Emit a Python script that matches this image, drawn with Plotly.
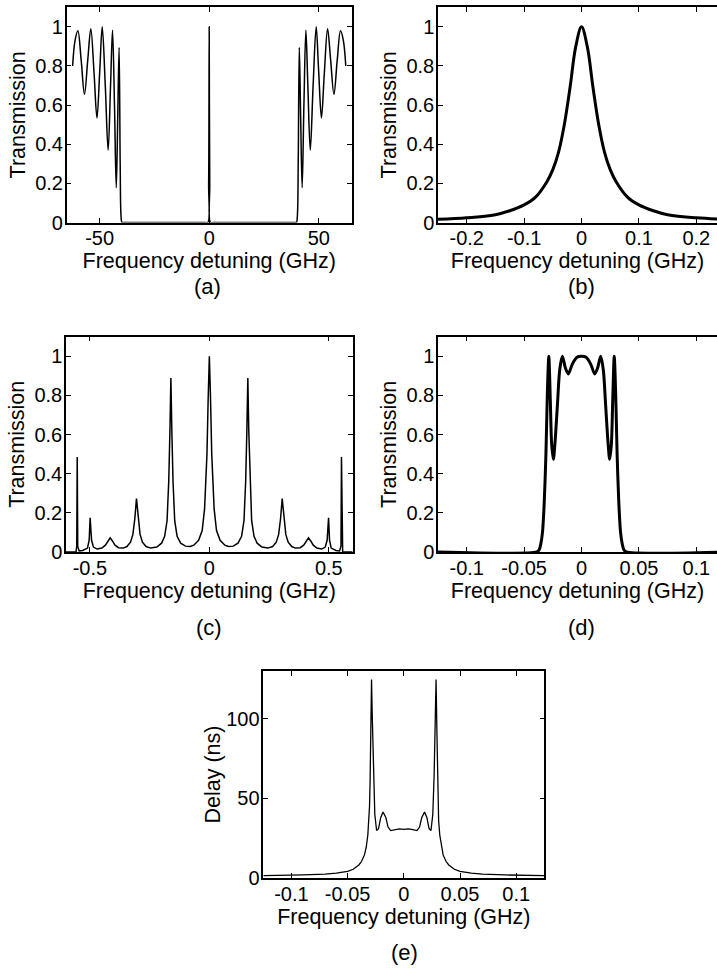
import plotly.graph_objects as go

W, H = 717, 973
FONT = "Liberation Sans, Arial, Helvetica, sans-serif"

# ---------------- data ----------------
# (a) wide transmission spectrum
a_x = [-62.3, -61.2, -59.9, -58.4, -56.9, -55.4, -54.0, -52.5, -51.2, -49.9, -48.8, -47.4,
       -46.1, -45.0, -44.1, -43.2, -42.4, -41.7, -41.1, -40.6, -40.2, -39.8, -39.0, -30.0,
       -15.0, -2.0, -0.6, -0.25, 0.0, 0.25, 0.6, 2.0, 15.0, 30.0, 39.0, 39.8, 40.2, 40.6,
       41.1, 41.7, 42.4, 43.2, 44.1, 45.0, 46.1, 47.4, 48.8, 49.9, 51.2, 52.5, 54.0, 55.4,
       56.9, 58.4, 59.9, 61.2, 62.3]
a_y = [0.80, 0.93, 0.98, 0.83, 0.655, 0.83, 0.99, 0.76, 0.534, 0.78, 1.0, 0.70,
       0.37, 0.70, 0.983, 0.60, 0.178, 0.55, 0.895, 0.30, 0.03, 0.0, 0.0, 0.0,
       0.0, 0.0, 0.0, 0.2, 1.0, 0.2, 0.0, 0.0, 0.0, 0.0, 0.0, 0.0, 0.03, 0.30,
       0.895, 0.55, 0.178, 0.60, 0.983, 0.70, 0.37, 0.70, 1.0, 0.78, 0.534, 0.76, 0.99, 0.83,
       0.655, 0.83, 0.98, 0.93, 0.80]

# (b) single resonance
b_x = [-0.25, -0.2, -0.15, -0.125, -0.1, -0.08, -0.06, -0.05, -0.04, -0.03, -0.02, -0.01, 0.0,
       0.01, 0.02, 0.03, 0.04, 0.05, 0.06, 0.08, 0.1, 0.125, 0.15, 0.2, 0.25]
b_y = [0.016, 0.024, 0.04, 0.06, 0.09, 0.13, 0.21, 0.27, 0.36, 0.50, 0.69, 0.90, 1.0,
       0.90, 0.69, 0.50, 0.36, 0.27, 0.21, 0.13, 0.09, 0.06, 0.04, 0.024, 0.016]

# (c) comb of resonances
c_x = [-0.6, -0.558, -0.555, -0.553, -0.551, -0.545, -0.53, -0.51, -0.503, -0.499, -0.493,
       -0.485, -0.47, -0.45, -0.435, -0.425, -0.415, -0.405, -0.395, -0.38, -0.36, -0.345,
       -0.33, -0.32, -0.312, -0.305, -0.298, -0.29, -0.28, -0.265, -0.245, -0.22, -0.2,
       -0.187, -0.177, -0.17, -0.165, -0.161, -0.157, -0.152, -0.145, -0.135, -0.12, -0.1,
       -0.08, -0.065, -0.045, -0.03, -0.02, -0.01, -0.005, 0.0,
       0.005, 0.01, 0.02, 0.03, 0.045, 0.065, 0.08, 0.1, 0.12, 0.135, 0.145, 0.152, 0.157,
       0.161, 0.165, 0.17, 0.177, 0.187, 0.2, 0.22, 0.245, 0.265, 0.28, 0.29, 0.298, 0.305,
       0.312, 0.32, 0.33, 0.345, 0.36, 0.38, 0.395, 0.405, 0.415, 0.425, 0.435, 0.45, 0.47,
       0.485, 0.493, 0.499, 0.503, 0.51, 0.53, 0.545, 0.551, 0.553, 0.555, 0.558, 0.6]
c_y = [0.0, 0.0, 0.03, 0.486, 0.03, 0.005, 0.008, 0.02, 0.06, 0.175, 0.06,
       0.025, 0.015, 0.02, 0.035, 0.055, 0.072, 0.055, 0.035, 0.022, 0.02, 0.028,
       0.05, 0.09, 0.17, 0.273, 0.17, 0.09, 0.05, 0.028, 0.02, 0.025, 0.045,
       0.08, 0.16, 0.36, 0.62, 0.889, 0.62, 0.36, 0.16, 0.08, 0.045, 0.03,
       0.028, 0.035, 0.06, 0.11, 0.22, 0.5, 0.78, 1.0,
       0.78, 0.5, 0.22, 0.11, 0.06, 0.035, 0.028, 0.03, 0.045, 0.08, 0.16, 0.36, 0.62,
       0.889, 0.62, 0.36, 0.16, 0.08, 0.045, 0.025, 0.02, 0.028, 0.05, 0.09, 0.17, 0.273,
       0.17, 0.09, 0.05, 0.028, 0.02, 0.022, 0.035, 0.055, 0.072, 0.055, 0.035, 0.02, 0.015,
       0.025, 0.06, 0.175, 0.06, 0.02, 0.008, 0.005, 0.03, 0.486, 0.03, 0.0, 0.0]

# (d) flat-top band
d_x = [-0.125, -0.039, -0.037, -0.0355, -0.034, -0.0325, -0.031, -0.0298, -0.0285, -0.0272,
       -0.026, -0.0245, -0.0232, -0.021, -0.019, -0.0167, -0.014, -0.0115, -0.008, -0.004, 0.0,
       0.004, 0.008, 0.0115, 0.014, 0.0167, 0.019, 0.021, 0.0232, 0.0245, 0.026, 0.0272,
       0.0285, 0.0298, 0.031, 0.0325, 0.034, 0.0355, 0.037, 0.039, 0.125]
d_y = [0.0, 0.0, 0.01, 0.04, 0.1, 0.25, 0.5, 0.8, 1.0, 0.78,
       0.55, 0.474, 0.55, 0.75, 0.93, 1.0, 0.94, 0.91, 0.96, 0.995, 1.0,
       0.995, 0.96, 0.91, 0.94, 1.0, 0.93, 0.75, 0.55, 0.474, 0.55, 0.78,
       1.0, 0.8, 0.5, 0.25, 0.1, 0.04, 0.01, 0.0, 0.0]

# (e) group delay
e_x = [-0.125, -0.11, -0.09, -0.07, -0.06, -0.05, -0.045, -0.04, -0.0375, -0.035, -0.0335,
       -0.032, -0.031, -0.0305, -0.030, -0.0295, -0.0287, -0.028, -0.027, -0.0258, -0.0242,
       -0.0225, -0.0205, -0.0185, -0.016, -0.014, -0.0117, -0.007, -0.004, 0.0,
       0.004, 0.007, 0.0117, 0.014, 0.016, 0.0185, 0.0205, 0.0225, 0.0242, 0.0258, 0.027,
       0.028, 0.0287, 0.0295, 0.030, 0.0305, 0.031, 0.032, 0.0335, 0.035, 0.0375, 0.04,
       0.045, 0.05, 0.06, 0.07, 0.09, 0.11, 0.125]
e_y = [1.5, 1.6, 1.9, 2.4, 3.0, 4.2, 5.5, 8.2, 10.5, 14.5, 19.0,
       27.0, 36.0, 45.0, 60.0, 90.0, 124.6, 100.0, 65.0, 40.0, 29.8,
       31.0, 38.0, 41.5, 38.0, 32.0, 29.8, 30.5, 30.8, 30.5,
       30.8, 30.5, 29.8, 32.0, 38.0, 41.5, 38.0, 31.0, 29.8, 40.0, 65.0,
       100.0, 124.6, 90.0, 60.0, 45.0, 36.0, 27.0, 19.0, 14.5, 10.5, 8.2,
       5.5, 4.2, 3.0, 2.4, 1.9, 1.6, 1.5]

# tick labels
a_xticks = [-50, 0, 50]
a_xtext = ["-50", "0", "50"]
b_xticks = [-0.2, -0.1, 0, 0.1, 0.2]
b_xtext = ["-0.2", "-0.1", "0", "0.1", "0.2"]
c_xticks = [-0.5, 0, 0.5]
c_xtext = ["-0.5", "0", "0.5"]
d_xticks = [-0.1, -0.05, 0, 0.05, 0.1]
d_xtext = ["-0.1", "-0.05", "0", "0.05", "0.1"]
t_yticks = [0, 0.2, 0.4, 0.6, 0.8, 1]
t_ytext = ["0", "0.2", "0.4", "0.6", "0.8", "1"]
e_yticks = [0, 50, 100]
e_ytext = ["0", "50", "100"]
panel_labels = ["(a)", "(b)", "(c)", "(d)", "(e)"]
XTITLE = "Frequency detuning (GHz)"

# ---------------- layout helpers ----------------
def px_x(p):
    return p / W

def px_y(p):
    return 1 - p / H

def xdom(l, r):
    return [px_x(l), min(1.0, px_x(r))]

def ydom(top, bottom):
    return [px_y(bottom), px_y(top)]

TICKF = dict(family=FONT, size=20, color="black")
TITF = dict(family=FONT, size=21.5, color="black")

def axis(rng, tv, tt, dom, title, mirror="ticks", standoff=4, lab_off=0):
    return dict(range=rng, domain=dom, tickmode="array", tickvals=tv, ticktext=tt,
                showline=True, linecolor="black", linewidth=1.5, mirror=mirror,
                ticks="inside", ticklen=5, tickwidth=1, tickcolor="black",
                ticklabelstandoff=lab_off,
                showgrid=False, zeroline=False, tickfont=TICKF, automargin=False,
                title=dict(text=title, font=TITF, standoff=standoff))

def xax(rng, tv, tt, dom):
    return axis(rng, tv, tt, dom, XTITLE, standoff=0, lab_off=-3)

def yax(rng, tv, tt, dom, title, mirror="ticks", standoff=4):
    return axis(rng, tv, tt, dom, title, mirror=mirror, standoff=standoff, lab_off=-2)

fig = go.Figure()
fig.add_trace(go.Scatter(x=a_x, y=a_y, mode="lines", xaxis="x", yaxis="y",
                         line=dict(color="black", width=1.5, shape="spline", smoothing=1.0)))
fig.add_trace(go.Scatter(x=b_x, y=b_y, mode="lines", xaxis="x2", yaxis="y2",
                         line=dict(color="black", width=3, shape="spline", smoothing=1.0)))
fig.add_trace(go.Scatter(x=c_x, y=c_y, mode="lines", xaxis="x3", yaxis="y3",
                         line=dict(color="black", width=1.5)))
fig.add_trace(go.Scatter(x=d_x, y=d_y, mode="lines", xaxis="x4", yaxis="y4",
                         line=dict(color="black", width=3, shape="spline", smoothing=0.8)))
fig.add_trace(go.Scatter(x=e_x, y=e_y, mode="lines", xaxis="x5", yaxis="y5",
                         line=dict(color="black", width=1.3)))

# pixel boxes of the five panels
A = dict(l=66.7, r=351.7, t=7.3, b=222.5)
B = dict(l=438.0, r=717.0, t=7.3, b=222.5)
C = dict(l=66.0, r=352.7, t=336.7, b=552.0)
D = dict(l=438.0, r=717.0, t=336.7, b=552.0)
E = dict(l=263.3, r=544.3, t=671.0, b=878.0)

fig.update_layout(
    width=W, height=H, margin=dict(l=0, r=0, t=0, b=0),
    paper_bgcolor="white", plot_bgcolor="white", showlegend=False,
    xaxis=xax([-65, 65], a_xticks, a_xtext, xdom(A["l"], A["r"])),
    yaxis=yax([0, 1.1], t_yticks, t_ytext, ydom(A["t"], A["b"]), "Transmission"),
    xaxis2=xax([-0.25, 0.236], b_xticks, b_xtext, xdom(B["l"], B["r"])),
    yaxis2=yax([0, 1.1], t_yticks, t_ytext, ydom(B["t"], B["b"]), "Transmission", mirror=False),
    xaxis3=xax([-0.6, 0.6], c_xticks, c_xtext, xdom(C["l"], C["r"])),
    yaxis3=yax([0, 1.1], t_yticks, t_ytext, ydom(C["t"], C["b"]), "Transmission"),
    xaxis4=xax([-0.125, 0.118], d_xticks, d_xtext, xdom(D["l"], D["r"])),
    yaxis4=yax([0, 1.1], t_yticks, t_ytext, ydom(D["t"], D["b"]), "Transmission", mirror=False),
    xaxis5=xax([-0.125, 0.125], d_xticks, d_xtext, xdom(E["l"], E["r"])),
    yaxis5=yax([0, 130], e_yticks, e_ytext, ydom(E["t"], E["b"]), "Delay (ns)", standoff=0),
)
for i, ax in enumerate(["yaxis", "yaxis2", "yaxis3", "yaxis4", "yaxis5"]):
    fig.layout[ax].anchor = "x" if i == 0 else "x%d" % (i + 1)
for i, ax in enumerate(["xaxis", "xaxis2", "xaxis3", "xaxis4", "xaxis5"]):
    fig.layout[ax].anchor = "y" if i == 0 else "y%d" % (i + 1)

label_pos = [(208, 287), (581, 287), (209, 627), (581, 627), (404, 952)]
for txt, (lx, ly) in zip(panel_labels, label_pos):
    fig.add_annotation(text=txt, x=px_x(lx), y=px_y(ly), xref="paper", yref="paper",
                       showarrow=False, xanchor="center", yanchor="middle",
                       font=dict(family=FONT, size=22, color="black"))

fig.write_html("out.html", config={"displayModeBar": False},
               post_script="document.body.style.margin='0';document.body.style.overflow='hidden';")
